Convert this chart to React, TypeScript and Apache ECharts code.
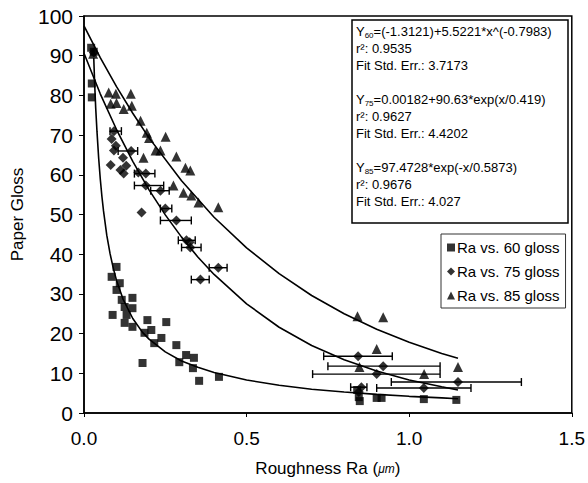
import React, { useEffect, useRef } from "react";
import * as echarts from "echarts";

const FONT = '"Liberation Sans", Arial, Helvetica, sans-serif';

const xTicks = [0, 0.5, 1.0, 1.5];
const yTicks = [0, 10, 20, 30, 40, 50, 60, 70, 80, 90, 100];

const seriesNames = ["Ra vs. 60 gloss", "Ra vs. 75 gloss", "Ra vs. 85 gloss"];

// Ra (um), gloss
const points60: [number, number][] = [
  [0.022, 92.0], [0.03, 91.0], [0.024, 83.0], [0.024, 79.5],
  [0.085, 34.3], [0.1, 36.8], [0.11, 32.7], [0.1, 31.0], [0.088, 24.7],
  [0.116, 28.5], [0.125, 26.7], [0.131, 24.7], [0.125, 22.7], [0.149, 29.0],
  [0.149, 26.4], [0.149, 21.7], [0.186, 20.2], [0.195, 23.4], [0.207, 20.9],
  [0.216, 17.6], [0.18, 12.6], [0.238, 18.9], [0.253, 22.9], [0.284, 17.1],
  [0.293, 12.8], [0.314, 14.6], [0.338, 13.9], [0.335, 11.3], [0.354, 8.1],
  [0.415, 9.1],
  [0.84, 5.8], [0.845, 4.0], [0.848, 3.0], [0.9, 3.8], [0.915, 3.8],
  [1.045, 3.5], [1.145, 3.3],
];

const points75: [number, number][] = [
  [0.03, 90.8], [0.092, 71.0], [0.085, 69.0], [0.098, 67.3], [0.092, 66.1],
  [0.082, 62.5], [0.12, 64.3], [0.145, 66.0], [0.13, 62.3], [0.112, 61.2],
  [0.167, 60.6], [0.19, 60.3], [0.122, 60.3], [0.19, 57.3], [0.235, 56.0],
  [0.177, 50.5], [0.25, 51.5], [0.284, 48.5], [0.315, 43.5], [0.325, 43.0],
  [0.327, 41.7], [0.413, 36.6], [0.358, 33.6],
  [0.843, 14.3], [0.92, 11.8], [0.9, 9.8], [1.15, 7.8], [1.045, 6.3],
  [0.853, 6.5], [0.845, 5.3],
];

// horizontal error bars of the 75 gloss points: [gloss, Ra low, Ra high]
const errors75: [number, number, number][] = [
  [71.0, 0.08, 0.115], [66.0, 0.105, 0.165], [60.3, 0.155, 0.218],
  [57.3, 0.155, 0.245], [56.0, 0.205, 0.262], [51.5, 0.235, 0.27],
  [48.5, 0.235, 0.33], [43.5, 0.29, 0.342], [41.7, 0.3, 0.36],
  [36.6, 0.385, 0.44], [33.6, 0.33, 0.385],
  [14.3, 0.737, 0.948], [11.8, 0.75, 1.095], [9.8, 0.703, 1.095],
  [7.8, 0.945, 1.345], [6.3, 0.9, 1.19], [6.5, 0.82, 0.87],
];

const points85: [number, number][] = [
  [0.028, 90.5], [0.076, 80.7], [0.098, 80.4], [0.144, 80.4], [0.082, 77.9],
  [0.1, 78.1], [0.122, 76.6], [0.147, 77.4], [0.174, 73.6], [0.193, 70.6],
  [0.251, 69.6], [0.2, 69.3], [0.22, 66.1], [0.235, 66.1], [0.284, 64.6],
  [0.183, 64.3], [0.312, 61.8], [0.327, 61.1], [0.275, 57.3], [0.306, 55.5],
  [0.33, 54.8], [0.352, 53.0], [0.413, 51.8],
  [0.841, 24.4], [0.92, 24.1], [0.9, 16.1], [0.847, 11.6], [1.046, 9.8],
  [1.15, 11.6],
];

// fitted curves
const fit60X = [0.03, 0.033, 0.036, 0.04, 0.045, 0.05, 0.055, 0.06, 0.07, 0.08, 0.09, 0.1, 0.12, 0.15, 0.18, 0.2, 0.25, 0.3, 0.35, 0.4, 0.5, 0.6, 0.7, 0.8, 0.9, 1.0, 1.1, 1.15];
const fit60Y = [89.4, 82.5, 76.8, 70.8, 64.3, 59.0, 54.6, 50.9, 44.8, 40.2, 36.5, 33.4, 28.7, 23.8, 20.3, 18.6, 15.4, 13.1, 11.5, 10.2, 8.3, 7.0, 6.0, 5.3, 4.7, 4.2, 3.8, 3.6];
const fit75X = [0, 0.05, 0.1, 0.15, 0.2, 0.25, 0.3, 0.35, 0.4, 0.5, 0.6, 0.7, 0.8, 0.9, 1.0, 1.1, 1.15];
const fit75Y = [90.6, 80.4, 71.4, 63.4, 56.2, 49.9, 44.3, 39.3, 34.9, 27.5, 21.6, 17.0, 13.4, 10.6, 8.3, 6.6, 5.8];
const fit85X = [0, 0.05, 0.1, 0.15, 0.2, 0.3, 0.4, 0.5, 0.6, 0.7, 0.8, 0.9, 1.0, 1.1, 1.15];
const fit85Y = [97.5, 89.5, 82.2, 75.5, 69.3, 58.5, 49.3, 41.6, 35.1, 29.6, 25.0, 21.1, 17.8, 15.0, 13.8];

// equation box lines: [main prefix, subscript, rest]
const fitLabels: [string, string, string][] = [
  ["Y", "60", "=(-1.3121)+5.5221*x^(-0.7983)"],
  ["r²: 0.9535", "", ""],
  ["Fit Std. Err.: 3.7173", "", ""],
  ["Y", "75", "=0.00182+90.63*exp(x/0.419)"],
  ["r²: 0.9627", "", ""],
  ["Fit Std. Err.: 4.4202", "", ""],
  ["Y", "85", "=97.4728*exp(-x/0.5873)"],
  ["r²: 0.9676", "", ""],
  ["Fit Std. Err.: 4.027", "", ""],
];

const zip = (xs: number[], ys: number[]) => xs.map((x, i) => [x, ys[i]]);

export default function App() {
  const ref = useRef<HTMLDivElement>(null);

  useEffect(() => {
    document.body.style.margin = "0";
    if (!ref.current) return;
    const chart = echarts.init(ref.current, null, { renderer: "svg" });

    const lineY = [31, 48, 65, 99, 116, 133, 167, 184, 201];
    const texts = fitLabels.map((l, i) => {
      const t = l[1]
        ? `{n|${l[0]}}{s|${l[1]}}{n|${l[2]}}`
        : `{n|${l[0]}}`;
      return {
        type: "text",
        x: 356,
        y: lineY[i],
        z: 101,
        style: {
          text: t,
          fill: "#000",
          verticalAlign: "middle",
          rich: {
            n: { fontSize: 13, fontFamily: FONT, fill: "#000", lineHeight: 16, verticalAlign: "middle" },
            s: { fontSize: 8, fontFamily: FONT, fill: "#000", lineHeight: 16, verticalAlign: "bottom", padding: [6, 0, 0, 0] },
          },
        },
      };
    });

    const lineStyle = { color: "#000", width: 1.6 };
    const fitSeries = (data: number[][]) => ({
      type: "line",
      data,
      smooth: false,
      showSymbol: false,
      symbol: "none",
      lineStyle,
      silent: true,
      z: 2,
    });

    chart.setOption({
      animation: false,
      backgroundColor: "#fff",
      grid: {
        left: 84,
        right: 13,
        top: 16,
        bottom: 70,
        show: true,
        borderColor: "#000",
        borderWidth: 1.5,
        backgroundColor: "transparent",
      },
      xAxis: {
        type: "value",
        min: xTicks[0],
        max: xTicks[xTicks.length - 1],
        interval: 0.5,
        name: "Roughness Ra ({i|μm})",
        nameLocation: "middle",
        nameGap: 47,
        nameTextStyle: {
          fontSize: 17,
          fontFamily: FONT,
          color: "#000",
          rich: { i: { fontSize: 12, fontStyle: "italic", fontFamily: FONT, color: "#000" } },
        },
        axisLine: { lineStyle: { color: "#000", width: 1.5 } },
        axisTick: { show: true, length: 4, lineStyle: { color: "#000" } },
        axisLabel: {
          fontSize: 19,
          fontFamily: FONT,
          color: "#000",
          margin: 16,
          formatter: (v: number) => v.toFixed(1),
        },
        splitLine: { show: false },
      },
      yAxis: {
        type: "value",
        min: yTicks[0],
        max: yTicks[yTicks.length - 1],
        interval: 10,
        name: "Paper Gloss",
        nameLocation: "middle",
        nameGap: 58,
        nameTextStyle: { fontSize: 17, fontFamily: FONT, color: "#000" },
        axisLine: { lineStyle: { color: "#000", width: 1.5 } },
        axisTick: { show: true, length: 5, lineStyle: { color: "#000" } },
        axisLabel: { fontSize: 21, fontFamily: FONT, color: "#000", margin: 11 },
        splitLine: { show: false },
      },
      legend: {
        orient: "vertical",
        left: 441,
        top: 234,
        padding: [6, 6, 5, 6],
        itemWidth: 8,
        itemHeight: 8,
        itemGap: 9,
        backgroundColor: "#fff",
        borderColor: "#333",
        borderWidth: 1,
        textStyle: { fontSize: 15, fontFamily: FONT, color: "#000", padding: [0, 0, 0, -3] },
        data: [
          { name: seriesNames[0], icon: "rect" },
          { name: seriesNames[1], icon: "diamond" },
          { name: seriesNames[2], icon: "triangle" },
        ],
      },
      graphic: [
        {
          type: "rect",
          shape: { x: 352, y: 20, width: 216, height: 203 },
          style: { fill: "#fff", stroke: "#000", lineWidth: 1.5 },
          z: 100,
        },
        ...texts,
      ],
      series: [
        fitSeries(zip(fit60X, fit60Y)),
        fitSeries(zip(fit75X, fit75Y)),
        fitSeries(zip(fit85X, fit85Y)),
        {
          type: "custom",
          silent: true,
          z: 3,
          data: errors75.map((e) => [e[1], e[0], e[2]]),
          encode: { x: [0, 2], y: 1 },
          renderItem: (params: any, api: any) => {
            const y = api.value(1);
            const p1 = api.coord([api.value(0), y]);
            const p2 = api.coord([api.value(2), y]);
            const h = 4;
            const st = { stroke: "#000", lineWidth: 1.4 };
            return {
              type: "group",
              children: [
                { type: "line", shape: { x1: p1[0], y1: p1[1], x2: p2[0], y2: p2[1] }, style: st },
                { type: "line", shape: { x1: p1[0], y1: p1[1] - h, x2: p1[0], y2: p1[1] + h }, style: st },
                { type: "line", shape: { x1: p2[0], y1: p2[1] - h, x2: p2[0], y2: p2[1] + h }, style: st },
              ],
            };
          },
        },
        {
          name: seriesNames[0],
          type: "scatter",
          symbol: "rect",
          symbolSize: 8,
          itemStyle: { color: "#000" },
          data: points60,
          z: 4,
        },
        {
          name: seriesNames[1],
          type: "scatter",
          symbol: "diamond",
          symbolSize: 10,
          itemStyle: { color: "#000" },
          data: points75,
          z: 4,
        },
        {
          name: seriesNames[2],
          type: "scatter",
          symbol: "triangle",
          symbolSize: 10,
          itemStyle: { color: "#000" },
          data: points85,
          z: 4,
        },
      ],
    });

    return () => chart.dispose();
  }, []);

  return <div ref={ref} style={{ width: 588, height: 483 }} />;
}
